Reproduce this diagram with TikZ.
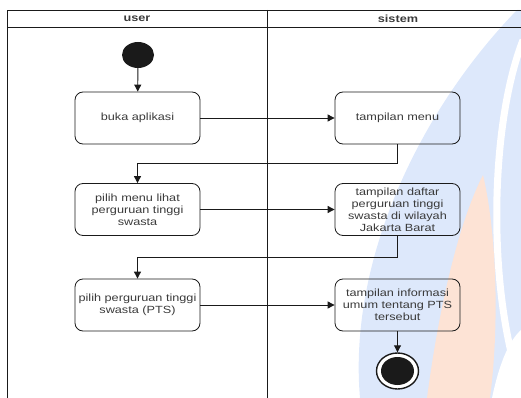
\documentclass[tikz,border=0pt]{standalone}
\usepackage{fontspec}
\setmainfont{Liberation Sans}[FakeStretch=1.22]
\usetikzlibrary{arrows.meta,shapes.geometric}
\definecolor{linec}{HTML}{1A1A1A}
\definecolor{textc}{HTML}{3A3A3A}
\definecolor{wmblue}{HTML}{DDE8FB}
\definecolor{wmorange}{HTML}{FDE3D5}
\tikzset{
  act/.style={draw=linec, line width=0.8pt, rounded corners=8pt, minimum width=125pt,
    minimum height=52pt, align=center, text=textc, inner sep=0pt,
    font=\fontsize{10.4}{12}\selectfont},
  lanehead/.style={text=textc, font=\fontsize{10.4}{12}\selectfont\bfseries},
  conn/.style={draw=linec, line width=0.9pt, -{Triangle[length=7pt,width=7pt]}},
  lane/.style={draw=linec, line width=0.8pt}
}
\begin{document}
\begin{tikzpicture}[x=1pt,y=-1pt]
\useasboundingbox (0,0) rectangle (521,398);
% watermark
\fill[wmblue] (360,398) .. controls (348,260) and (420,110) .. (517,10) -- (521,10) -- (521,398) -- cycle;
\draw[white, line width=7pt] (523,40) .. controls (488,130) and (488,300) .. (523,392);
\fill[white] (492,398) .. controls (500,360) and (510,340) .. (521,330) -- (521,398) -- cycle;
\fill[wmorange] (427,398) .. controls (440,300) and (460,220) .. (483,175) .. controls (496,230) and (500,320) .. (490,398) -- cycle;
% swimlanes
\draw[lane] (7,398) -- (7,10) -- (521,10);
\draw[lane] (7,27) -- (521,27);
\draw[lane] (267,10) -- (267,398);
\node[lanehead] (huser) at (137,18.5) {user};
\node[lanehead] (hsys) at (398,18.5) {sistem};
% nodes
\node[ellipse, fill=linec, minimum width=32pt, minimum height=26pt, inner sep=0pt] (start) at (138,55) {};
\node[act] (buka) at (137.5,118) {buka aplikasi};
\node[act] (menu) at (397.5,118) {tampilan menu};
\node[act] (pilihmenu) at (137.5,209.5) {pilih menu lihat\\perguruan tinggi\\swasta};
\node[act] (daftar) at (397.5,209.5) {tampilan daftar\\perguruan tinggi\\swasta di wilayah\\Jakarta Barat};
\node[act] (pilihpts) at (137.5,305) {pilih perguruan tinggi\\swasta (PTS)};
\node[act] (info) at (397.5,305) {tampilan informasi\\umum tentang PTS\\tersebut};
\node[ellipse, draw=linec, line width=1.4pt, fill=white, minimum width=42pt, minimum height=36pt, inner sep=0pt] (final) at (397.5,371) {};
\node[ellipse, fill=linec, minimum width=33pt, minimum height=28pt, inner sep=0pt] (finaldot) at (397.5,371) {};
% connectors
\draw[conn] (start) -- (buka);
\draw[conn] (buka) -- (menu);
\draw[conn] (menu.south) -- ++(0,19) -| (pilihmenu.north);
\draw[conn] (pilihmenu) -- (daftar);
\draw[conn] (daftar.south) -- ++(0,22) -| (pilihpts.north);
\draw[conn] (pilihpts) -- (info);
\draw[conn] (info) -- (final);
\end{tikzpicture}
\end{document}
